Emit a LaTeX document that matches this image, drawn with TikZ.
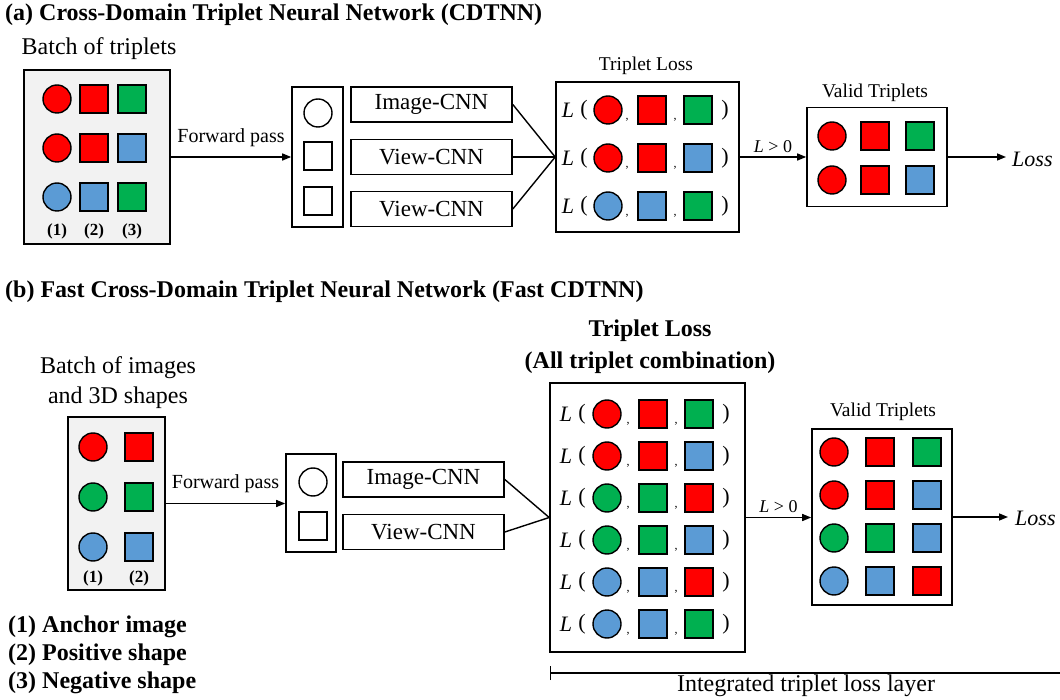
\documentclass[tikz,border=0pt]{standalone}
\usepackage{fontspec}
\setmainfont{Liberation Serif}
\usetikzlibrary{arrows.meta}
\definecolor{cred}{HTML}{FF0000}
\definecolor{cgreen}{HTML}{00B050}
\definecolor{cblue}{HTML}{5B9BD5}
\definecolor{cgray}{HTML}{F2F2F2}
\newcommand{\fsz}[1]{\fontsize{#1}{#1}\selectfont}

\begin{document}
\begin{tikzpicture}[x=1pt, y=-1pt]
    \tikzstyle{anc}=[circle, draw, line width=1.4pt, minimum size=28pt, inner sep=0pt]
    \tikzstyle{sqr}=[rectangle, draw, line width=1.4pt, minimum size=28pt, inner sep=0pt]
    \tikzstyle{boxframe}=[rectangle, draw, line width=1.6pt, inner sep=0pt]
    \tikzstyle{lbl}=[inner sep=0pt]
    \tikzstyle{cnn}=[boxframe, minimum width=161pt, minimum height=35pt, font=\fsz{23}]
    \tikzstyle{fwd}=[draw, line width=1.4pt, -{Triangle[length=9pt, width=7pt]}]

    \useasboundingbox (0,0) rectangle (1060,700);

    % (a) CDTNN
    \node [lbl, anchor=west, font=\fsz{24}\bfseries] (ttla) at (5,15) {(a) Cross-Domain Triplet Neural Network (CDTNN)};

    \node [lbl, font=\fsz{24}] (bta) at (99,49) {Batch of triplets};
    \node [boxframe, fill=cgray, minimum width=146pt, minimum height=174pt] (bxa) at (97,157) {};
    \foreach \c/\p/\n [count=\i] in {cred/cred/cgreen, cred/cred/cblue, cblue/cblue/cgreen} {
      \node [anc, fill=\c] (ba\i-a) at (57,50+49*\i) {};
      \node [sqr, fill=\p] (ba\i-p) at (94,50+49*\i) {};
      \node [sqr, fill=\n] (ba\i-n) at (132,50+49*\i) {};
    }
    \foreach \x/\t in {57/1, 94/2, 132/3}
      \node [lbl, font=\fsz{17}\bfseries] (nma\t) at (\x,231) {(\t)};

    \node [boxframe, minimum width=51pt, minimum height=140pt] (ina) at (317.5,157) {};
    \node [anc] (ina1) at (318,113) {};
    \node [sqr] (ina2) at (318,156) {};
    \node [sqr] (ina3) at (318,201) {};
    \draw [fwd] (bxa.east) -- node [lbl, midway, above=10pt, font=\fsz{20}] {Forward pass} (bxa.east -| ina.west);

    \node [cnn] (ica) at (431.5,104.5) {Image-CNN};
    \node [cnn] (vca1) at (431.5,157) {View-CNN};
    \node [cnn] (vca2) at (431.5,209) {View-CNN};

    \node [boxframe, minimum width=183pt, minimum height=150pt] (tla) at (647.5,157) {};
    \node [lbl, font=\fsz{19.5}] (tlta) at (646,66) {Triplet Loss};
    \draw [line width=1.4pt] (ica.east) -- (tla.west);
    \draw [line width=1.4pt] (vca1.east) -- (tla.west);
    \draw [line width=1.4pt] (vca2.east) -- (tla.west);
    \foreach \c/\p/\n [count=\i] in {cred/cred/cgreen, cred/cred/cblue, cblue/cblue/cgreen} {
      \node [lbl, font=\fsz{22}\itshape] (tla\i-l) at (568,62+48*\i) {L};
      \node [lbl, font=\fsz{22}] (tla\i-o) at (584,62+48*\i) {(};
      \node [anc, fill=\c] (tla\i-a) at (608,62+48*\i) {};
      \node [lbl, font=\fsz{12}] (tla\i-c1) at (627,72+48*\i) {,};
      \node [sqr, fill=\p] (tla\i-p) at (652,62+48*\i) {};
      \node [lbl, font=\fsz{12}] (tla\i-c2) at (675,72+48*\i) {,};
      \node [sqr, fill=\n] (tla\i-n) at (698,62+48*\i) {};
      \node [lbl, font=\fsz{22}] (tla\i-e) at (725,62+48*\i) {)};
    }

    \node [boxframe, minimum width=140pt, minimum height=99pt] (vta) at (877,157) {};
    \node [lbl, font=\fsz{19.5}] (vtta) at (875,93) {Valid Triplets};
    \foreach \c/\p/\n [count=\i] in {cred/cred/cgreen, cred/cred/cblue} {
      \node [anc, fill=\c] (va\i-a) at (832,92+44*\i) {};
      \node [sqr, fill=\p] (va\i-p) at (875,92+44*\i) {};
      \node [sqr, fill=\n] (va\i-n) at (920,92+44*\i) {};
    }
    \draw [fwd] (tla.east) -- node [lbl, midway, above=4pt, font=\fsz{18}] {{\itshape L} > 0} (tla.east -| vta.west);
    \node [lbl, anchor=west, font=\fsz{22}\itshape] (lsa) at (1012,159) {Loss};
    \draw [fwd, shorten >=6pt] (vta.east) -- (vta.east -| lsa.west);

    % (b) Fast CDTNN
    \node [lbl, anchor=west, font=\fsz{24}\bfseries] (ttlb) at (5,292) {(b) Fast Cross-Domain Triplet Neural Network (Fast CDTNN)};

    \node [lbl, font=\fsz{24}, align=center] (btb) at (118,383) {Batch of images\\[6pt]and 3D shapes};
    \node [boxframe, fill=cgray, minimum width=97pt, minimum height=173pt] (bxb) at (116.5,503.5) {};
    \foreach \c [count=\i] in {cred, cgreen, cblue} {
      \node [anc, fill=\c] (bb\i-a) at (93,397+50*\i) {};
      \node [sqr, fill=\c] (bb\i-p) at (139,397+50*\i) {};
    }
    \foreach \x/\t in {93/1, 139/2}
      \node [lbl, font=\fsz{17}\bfseries] (nmb\t) at (\x,578) {(\t)};

    \node [lbl, anchor=west, font=\fsz{24}\bfseries] (lg1) at (8,627) {(1) Anchor image};
    \node [lbl, anchor=west, font=\fsz{24}\bfseries] (lg2) at (8,655) {(2) Positive shape};
    \node [lbl, anchor=west, font=\fsz{24}\bfseries] (lg3) at (8,683) {(3) Negative shape};

    \node [boxframe, minimum width=50pt, minimum height=98pt] (inb) at (311,503) {};
    \node [anc] (inb1) at (313,482) {};
    \node [sqr] (inb2) at (313,526) {};
    \draw [fwd] (bxb.east) -- node [lbl, midway, above=10pt, font=\fsz{20}] {Forward pass} (bxb.east -| inb.west);

    \node [cnn] (icb) at (423.5,479.5) {Image-CNN};
    \node [cnn] (vcb) at (423.5,532) {View-CNN};

    \node [boxframe, minimum width=195pt, minimum height=269pt] (tlb) at (647.5,517.5) {};
    \node [lbl, font=\fsz{24}\bfseries, align=center] (tltb) at (650,347) {Triplet Loss\\[8pt](All triplet combination)};
    \draw [line width=1.4pt] (icb.east) -- (tlb.west);
    \draw [line width=1.4pt] (vcb.east) -- (tlb.west);
    \foreach \c/\p/\n [count=\i] in {cred/cred/cgreen, cred/cred/cblue, cgreen/cgreen/cred, cgreen/cgreen/cblue, cblue/cblue/cred, cblue/cblue/cgreen} {
      \node [lbl, font=\fsz{22}\itshape] (tlb\i-l) at (566,372+42*\i) {L};
      \node [lbl, font=\fsz{22}] (tlb\i-o) at (582,372+42*\i) {(};
      \node [anc, fill=\c] (tlb\i-a) at (607,372+42*\i) {};
      \node [lbl, font=\fsz{12}] (tlb\i-c1) at (628,382+42*\i) {,};
      \node [sqr, fill=\p] (tlb\i-p) at (653,372+42*\i) {};
      \node [lbl, font=\fsz{12}] (tlb\i-c2) at (676,382+42*\i) {,};
      \node [sqr, fill=\n] (tlb\i-n) at (699,372+42*\i) {};
      \node [lbl, font=\fsz{22}] (tlb\i-e) at (726,372+42*\i) {)};
    }

    \node [boxframe, minimum width=140pt, minimum height=176pt] (vtb) at (882,517) {};
    \node [lbl, font=\fsz{19.5}] (vttb) at (883,412) {Valid Triplets};
    \foreach \c/\p/\n [count=\i] in {cred/cred/cgreen, cred/cred/cblue, cgreen/cgreen/cblue, cblue/cblue/cred} {
      \node [anc, fill=\c] (vb\i-a) at (834,409+43*\i) {};
      \node [sqr, fill=\p] (vb\i-p) at (880,409+43*\i) {};
      \node [sqr, fill=\n] (vb\i-n) at (927,409+43*\i) {};
    }
    \draw [fwd] (tlb.east) -- node [lbl, midway, above=4pt, font=\fsz{18}] {{\itshape L} > 0} (tlb.east -| vtb.west);
    \node [lbl, anchor=west, font=\fsz{22}\itshape] (lsb) at (1015,518) {Loss};
    \draw [fwd, shorten >=7pt] (vtb.east) -- (vtb.east -| lsb.west);

    \coordinate (brl) at (550,673);
    \coordinate (brr) at (1060,673);
    \draw [line width=1.4pt, {Bar[width=14pt]}-] (brl) -- (brr);
    \node [lbl, font=\fsz{24}] (itl) at (806,686) {Integrated triplet loss layer};
\end{tikzpicture}
\end{document}
